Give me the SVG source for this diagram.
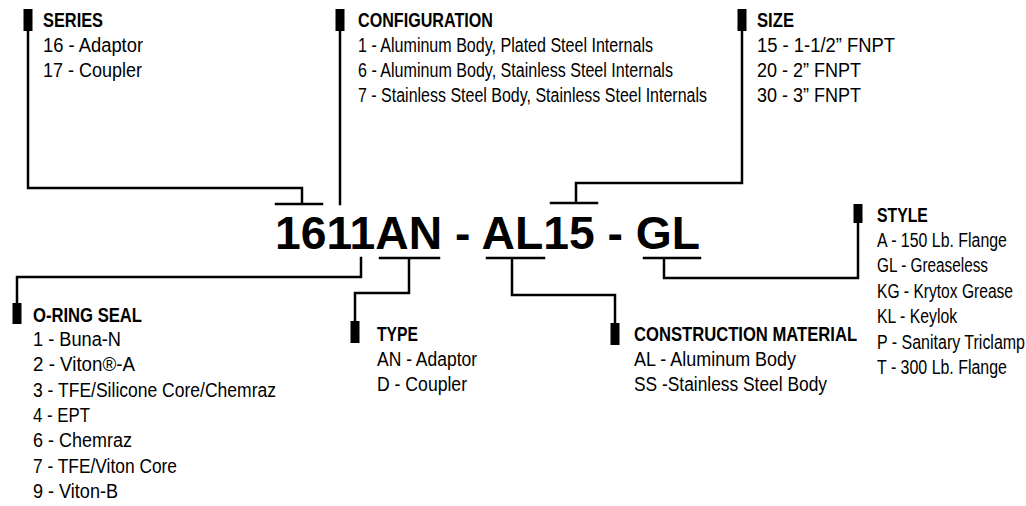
<svg xmlns="http://www.w3.org/2000/svg" width="1026" height="506" viewBox="0 0 1026 506">
<style>
text{font-family:"Liberation Sans",Arial,sans-serif;fill:#000}
.t{font-size:20px;font-weight:bold}
.b{font-size:19.5px}
.big{font-size:46px;font-weight:bold}
.m{fill:#000}
.c{fill:none;stroke:#000;stroke-width:2.5;stroke-linejoin:miter;stroke-linecap:square}
</style>
<rect width="1026" height="506" fill="#fff"/>
<g id="connectors" class="c">
<path d="M28 31V188H302V204M276 204H322"/>
<path d="M340 31V204"/>
<path d="M742 31V183H576V203M551 203H597"/>
<path d="M361 258V277H17V303"/>
<path d="M380 258H439M409 258V293H355V321"/>
<path d="M487 258H544M512 258V295H615V323"/>
<path d="M644 258H700M664 258V278H858V222"/>
</g>
<g id="code">
<text class="big" x="275" y="249" textLength="425" lengthAdjust="spacingAndGlyphs">1611AN - AL15 - GL</text>
</g>
<g id="series">
<rect class="m" x="23.5" y="9" width="9" height="22"/>
<g transform="translate(43,0) scale(0.82,1)">
<text class="t" x="0" y="27" textLength="73.2" lengthAdjust="spacingAndGlyphs">SERIES</text>
<text class="b" x="0" y="52" textLength="122" lengthAdjust="spacingAndGlyphs">16 - Adaptor</text>
<text class="b" x="0" y="77" textLength="120.7" lengthAdjust="spacingAndGlyphs">17 - Coupler</text>
</g>
</g>
<g id="configuration">
<rect class="m" x="335.5" y="9" width="9" height="22"/>
<g transform="translate(358,0) scale(0.82,1)">
<text class="t" x="0" y="27" textLength="164.6" lengthAdjust="spacingAndGlyphs">CONFIGURATION</text>
<text class="b" x="0" y="52" textLength="359.8" lengthAdjust="spacingAndGlyphs">1 - Aluminum Body, Plated Steel Internals</text>
<text class="b" x="0" y="77" textLength="384.1" lengthAdjust="spacingAndGlyphs">6 - Aluminum Body, Stainless Steel Internals</text>
<text class="b" x="0" y="102" textLength="425.6" lengthAdjust="spacingAndGlyphs">7 - Stainless Steel Body, Stainless Steel Internals</text>
</g>
</g>
<g id="size">
<rect class="m" x="737.5" y="9" width="9" height="22"/>
<g transform="translate(757,0) scale(0.82,1)">
<text class="t" x="0" y="27" textLength="45.1" lengthAdjust="spacingAndGlyphs">SIZE</text>
<text class="b" x="0" y="52" textLength="168.3" lengthAdjust="spacingAndGlyphs">15 - 1-1/2” FNPT</text>
<text class="b" x="0" y="77" textLength="126.8" lengthAdjust="spacingAndGlyphs">20 - 2” FNPT</text>
<text class="b" x="0" y="102" textLength="126.8" lengthAdjust="spacingAndGlyphs">30 - 3” FNPT</text>
</g>
</g>
<g id="style">
<rect class="m" x="853.5" y="204" width="9" height="19"/>
<g transform="translate(877,0) scale(0.82,1)">
<text class="t" x="0" y="222" textLength="62" lengthAdjust="spacingAndGlyphs">STYLE</text>
<text class="b" x="0" y="247" textLength="158.5" lengthAdjust="spacingAndGlyphs">A - 150 Lb. Flange</text>
<text class="b" x="0" y="272.5" textLength="135.4" lengthAdjust="spacingAndGlyphs">GL - Greaseless</text>
<text class="b" x="0" y="298" textLength="165.9" lengthAdjust="spacingAndGlyphs">KG - Krytox Grease</text>
<text class="b" x="0" y="323.5" textLength="97.6" lengthAdjust="spacingAndGlyphs">KL - Keylok</text>
<text class="b" x="0" y="349" textLength="180.5" lengthAdjust="spacingAndGlyphs">P - Sanitary Triclamp</text>
<text class="b" x="0" y="374.5" textLength="158.5" lengthAdjust="spacingAndGlyphs">T - 300 Lb. Flange</text>
</g>
</g>
<g id="oring">
<rect class="m" x="12.5" y="303" width="9" height="21"/>
<g transform="translate(33,0) scale(0.82,1)">
<text class="t" x="0" y="322" textLength="132.9" lengthAdjust="spacingAndGlyphs">O-RING SEAL</text>
<text class="b" x="0" y="346" textLength="107.3" lengthAdjust="spacingAndGlyphs">1 - Buna-N</text>
<text class="b" x="0" y="371.5" textLength="124.4" lengthAdjust="spacingAndGlyphs">2 - Viton®-A</text>
<text class="b" x="0" y="397" textLength="296.3" lengthAdjust="spacingAndGlyphs">3 - TFE/Silicone Core/Chemraz</text>
<text class="b" x="0" y="422" textLength="69.5" lengthAdjust="spacingAndGlyphs">4 - EPT</text>
<text class="b" x="0" y="447.5" textLength="120.7" lengthAdjust="spacingAndGlyphs">6 - Chemraz</text>
<text class="b" x="0" y="473" textLength="175.6" lengthAdjust="spacingAndGlyphs">7 - TFE/Viton Core</text>
<text class="b" x="0" y="498" textLength="103.7" lengthAdjust="spacingAndGlyphs">9 - Viton-B</text>
</g>
</g>
<g id="type">
<rect class="m" x="350.5" y="321" width="9" height="22"/>
<g transform="translate(377,0) scale(0.82,1)">
<text class="t" x="0" y="341" textLength="50" lengthAdjust="spacingAndGlyphs">TYPE</text>
<text class="b" x="0" y="366" textLength="122" lengthAdjust="spacingAndGlyphs">AN - Adaptor</text>
<text class="b" x="0" y="391" textLength="109.8" lengthAdjust="spacingAndGlyphs">D - Coupler</text>
</g>
</g>
<g id="construction">
<rect class="m" x="610.5" y="323" width="9" height="22"/>
<g transform="translate(634,0) scale(0.82,1)">
<text class="t" x="0" y="341" textLength="272" lengthAdjust="spacingAndGlyphs">CONSTRUCTION MATERIAL</text>
<text class="b" x="0" y="366" textLength="197.6" lengthAdjust="spacingAndGlyphs">AL - Aluminum Body</text>
<text class="b" x="0" y="391" textLength="235.4" lengthAdjust="spacingAndGlyphs">SS -Stainless Steel Body</text>
</g>
</g>
</svg>
